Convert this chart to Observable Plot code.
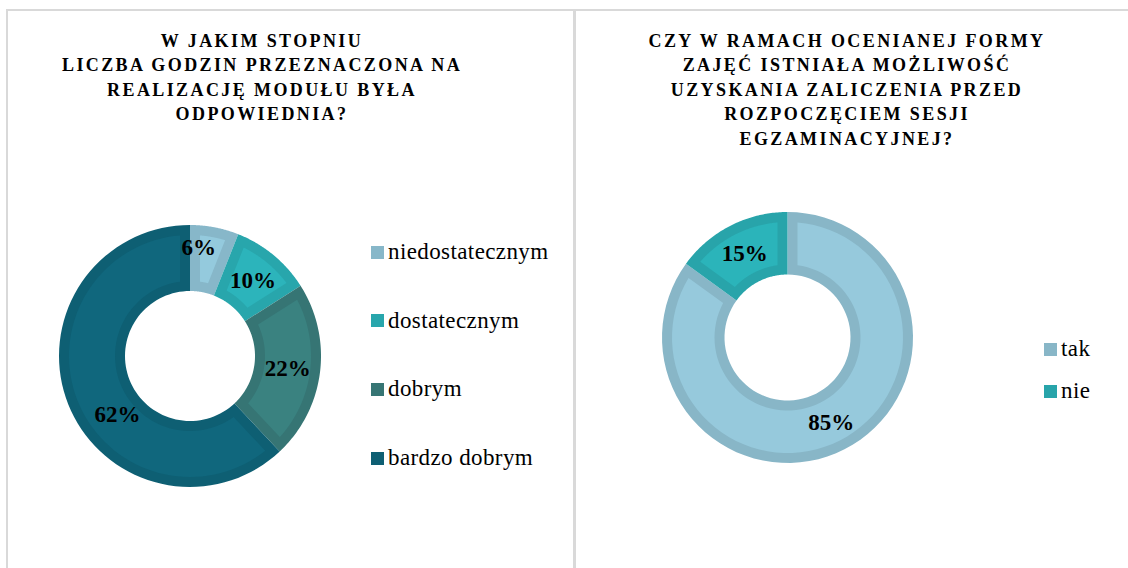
<!DOCTYPE html>
<html><head><meta charset="utf-8">
<script src="https://cdn.jsdelivr.net/npm/d3@7"></script>
<script src="https://cdn.jsdelivr.net/npm/@observablehq/plot@0.6"></script>
<style>
html,body{margin:0;padding:0;background:#fff;}
#root{position:relative;width:1128px;height:568px;overflow:hidden;font-family:"Liberation Serif","Times New Roman",serif;}
.line{position:absolute;background:#d9d9d9;}
.title{position:absolute;text-align:center;font-weight:bold;font-size:18px;letter-spacing:2.4px;line-height:24.6px;color:#000;white-space:nowrap;}
.leg{position:absolute;display:flex;align-items:center;font-size:23px;line-height:22px;letter-spacing:0.4px;color:#000;white-space:nowrap;}
.sw{width:13px;height:13px;margin-right:4px;flex:none;}
.donut{position:absolute;}
</style></head><body><div id="root"></div>
<script>
// ---- data ----
const leftTitle = ["W JAKIM STOPNIU", "LICZBA GODZIN PRZEZNACZONA NA", "REALIZACJĘ MODUŁU BYŁA", "ODPOWIEDNIA?"];
const leftCategories = ["niedostatecznym", "dostatecznym", "dobrym", "bardzo dobrym"];
const leftValues = [6, 10, 22, 62];
const leftFill = ["#94cadd", "#2cb4bb", "#3a8280", "#10677d"];
const leftBorder = ["#87b7c9", "#28a6ac", "#367574", "#0e5f73"];

const rightTitle = ["CZY W RAMACH OCENIANEJ FORMY", "ZAJĘĆ ISTNIAŁA MOŻLIWOŚĆ", "UZYSKANIA ZALICZENIA PRZED", "ROZPOCZĘCIEM SESJI", "EGZAMINACYJNEJ?"];
const rightCategories = ["tak", "nie"];
const rightValues = [85, 15];
const rightFill = ["#96c9dc", "#2bb4ba"];
const rightBorder = ["#88b6c7", "#28a4aa"];

const root = document.getElementById("root");
function div(cls, style, html) {
  const d = document.createElement("div");
  d.className = cls; Object.assign(d.style, style);
  if (html != null) d.innerHTML = html;
  root.appendChild(d); return d;
}

// panel frames
div("line", {left: "6px", top: "9px", width: "1122px", height: "2px"});
div("line", {left: "6px", top: "9px", width: "1.5px", height: "559px"});
div("line", {left: "573px", top: "9px", width: "2.5px", height: "559px"});

// titles
div("title", {left: "62px", top: "28.6px", width: "400px"}, leftTitle.join("<br>"));
div("title", {left: "647px", top: "28.6px", width: "400px"}, rightTitle.join("<br>"));

function sector(rows, key, color, ri, ro, a0, a1, d) {
  const N = 72;
  const ai0 = a0 + Math.asin(d / ri), ai1 = a1 - Math.asin(d / ri);
  const ao0 = a0 + Math.asin(d / ro), ao1 = a1 - Math.asin(d / ro);
  for (let k = 0; k <= N; k++) {
    const t = k / N;
    const ai = ai0 + (ai1 - ai0) * t, ao = ao0 + (ao1 - ao0) * t;
    rows.push({key, color, xi: ri * Math.sin(ai), yi: ri * Math.cos(ai), xo: ro * Math.sin(ao), yo: ro * Math.cos(ao)});
  }
}

function donut(values, fills, borders, r0, r1, band, labelR, nudge) {
  const total = d3.sum(values);
  const rows = [], labels = [];
  let acc = 0;
  values.forEach((v, i) => {
    const a0 = acc / total * 2 * Math.PI; acc += v;
    const a1 = acc / total * 2 * Math.PI;
    sector(rows, i + "b", borders[i], r0, r1, a0, a1, 0);
    sector(rows, i + "f", fills[i], r0 + band, r1 - band, a0, a1, band);
    const am = (a0 + a1) / 2;
    const n = nudge[i] || [0, 0];
    labels.push({text: v + "%", x: labelR * Math.sin(am) + n[0], y: labelR * Math.cos(am) + n[1]});
  });
  const R = r1 + 4;
  return Plot.plot({
    width: 2 * R, height: 2 * R, margin: 0,
    x: {domain: [-R, R], axis: null},
    y: {domain: [-R, R], axis: null},
    color: {type: "identity"},
    style: {background: "transparent", overflow: "visible"},
    marks: [
      Plot.area(rows, {x1: "xi", y1: "yi", x2: "xo", y2: "yo", z: "key", fill: "color"}),
      Plot.text(labels, {x: "x", y: "y", text: "text", fill: "#000", fontSize: 23, fontWeight: "bold", fontFamily: "Liberation Serif, Times New Roman, serif"})
    ]
  });
}

const left = donut(leftValues, leftFill, leftBorder, 65, 131, 10, 98, [[-10, 13], [0, 0], [0, 0], [18, -22]]);
left.classList.add("donut");
left.style.left = (189.5 - 135) + "px"; left.style.top = (355.5 - 135) + "px";
root.appendChild(left);

const right = donut(rightValues, rightFill, rightBorder, 63, 125.5, 10, 95, []);
right.classList.add("donut");
right.style.left = (787 - 129.5) + "px"; right.style.top = (337.5 - 129.5) + "px";
root.appendChild(right);

// legends
function legend(cats, colors, x, y0, step) {
  cats.forEach((c, i) => {
    const d = div("leg", {left: x + "px", top: (y0 + i * step - 11) + "px"});
    const s = document.createElement("div"); s.className = "sw"; s.style.background = colors[i];
    const t = document.createElement("span"); t.textContent = c;
    d.appendChild(s); d.appendChild(t);
  });
}
legend(leftCategories, leftBorder, 371, 252, 68.7);
legend(rightCategories, rightBorder, 1044, 349, 42);
</script></body></html>
